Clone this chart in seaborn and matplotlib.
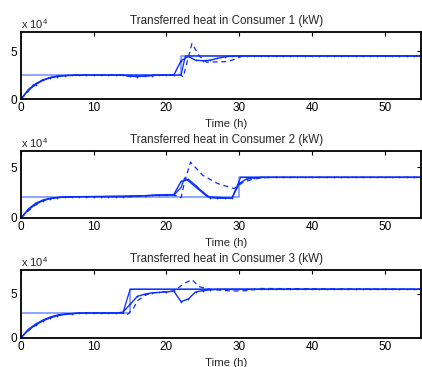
import numpy as np
import pandas as pd
import matplotlib
matplotlib.use('Agg')
import matplotlib.pyplot as plt
import seaborn as sns

# hourly time grid for the measured (dotted) series
t_hourly = list(range(0, 56))

# ---- Consumer 1 ----
c1_set_t = [0, 22, 22, 55]
c1_set_v = [25000, 25000, 45000, 45000]
c1_meas = [0, 9000, 15000, 19500, 22000, 23500, 24300, 24700, 24900, 25000,
           25000, 25000, 25000, 25000, 25000, 23800, 23500, 23800, 24500, 25000,
           25000, 25000, 40000, 44500, 40500, 40000, 40500, 42500, 44000, 44800] + [45000] * 26
c1_dash_t = [0, 1, 1.5, 2, 3, 4, 5, 6, 8, 14, 15, 16, 18, 21, 22, 22.3, 23.5, 24.5, 25.5, 28, 29, 30.5, 32, 55]
c1_dash_v = [0, 8000, 14000, 15500, 20000, 22500, 23800, 24500, 25000, 25000, 23500, 23500,
             24800, 25000, 25000, 23000, 58000, 45000, 38500, 39000, 40500, 45000, 45000, 45000]
c1_model_t = [0, 1, 2, 3, 4, 5, 6, 8, 22, 22.6, 55]
c1_model_v = [0, 10000, 16000, 20000, 22500, 24000, 24600, 25000, 25000, 45000, 45000]

# ---- Consumer 2 ----
c2_set_t = [0, 30, 30, 55]
c2_set_v = [21000, 21000, 40000, 40000]
c2_meas = [0, 8000, 13500, 17000, 19000, 20000, 20600, 20900, 21000, 21000,
           21000, 21000, 21000, 21000, 21000, 21200, 21500, 22000, 22500, 22800,
           23000, 23000, 36000, 38000, 32000, 25500, 20000, 19500, 19500, 19500,
           34000, 38500, 39500] + [40000] * 23
c2_dash_t = [0, 1, 2, 3, 4, 5, 6, 8, 15, 20, 21, 22, 22.5, 23.3, 25, 27, 29.3, 30.5, 32, 34, 55]
c2_dash_v = [0, 7000, 13000, 17000, 19000, 20000, 20600, 21000, 21000, 22800, 22800, 20000,
             36000, 55000, 42000, 34000, 29000, 35000, 38500, 40000, 40000]
c2_model_t = [0, 1, 2, 3, 4, 5, 6, 8, 21, 22, 22.5, 25.6, 29, 30.2, 55]
c2_model_v = [0, 9000, 14500, 17800, 19500, 20300, 20800, 21000, 22500, 30000, 39500,
              21000, 19500, 40000, 40000]

# ---- Consumer 3 ----
c3_set_t = [0, 15, 15, 55]
c3_set_v = [28000, 28000, 55000, 55000]
c3_meas = [0, 8500, 14500, 19000, 22500, 25000, 26500, 27300, 27700, 28000,
           28000, 28000, 28000, 28000, 29000, 38000, 47000, 49500, 51000, 51500,
           52000, 53000, 41000, 44000, 52000, 53500, 54500] + [55000] * 29
c3_dash_t = [0, 1, 2, 3, 4, 5, 6, 8, 14, 14.6, 15.5, 16, 17, 18, 21, 22.5, 23.5, 24.5,
             26, 29, 31, 33, 55]
c3_dash_v = [0, 8000, 14000, 19500, 23000, 25500, 26800, 28000, 28000, 26000, 34000, 42000,
             48000, 51000, 53000, 62000, 66000, 58000, 55000, 53000, 53500, 56000, 55000]
c3_model_t = [0, 1, 2, 3, 4, 5, 6, 8, 14, 15, 55]
c3_model_v = [0, 9500, 15500, 20000, 23500, 25800, 27000, 28000, 28000, 55000, 55000]

titles = ['Transferred heat in Consumer 1 (kW)',
          'Transferred heat in Consumer 2 (kW)',
          'Transferred heat in Consumer 3 (kW)']
ylims = [7.0, 6.6, 7.7]

panels = [
    (c1_set_t, c1_set_v, c1_meas, c1_dash_t, c1_dash_v, c1_model_t, c1_model_v),
    (c2_set_t, c2_set_v, c2_meas, c2_dash_t, c2_dash_v, c2_model_t, c2_model_v),
    (c3_set_t, c3_set_v, c3_meas, c3_dash_t, c3_dash_v, c3_model_t, c3_model_v),
]

sns.set_style('white')
plt.rcParams['font.family'] = ['Liberation Sans', 'DejaVu Sans']
plt.rcParams['mathtext.fontset'] = 'custom'
plt.rcParams['mathtext.rm'] = 'Liberation Sans'

blue = '#0a2dff'
light = '#6f8cff'

fig = plt.figure(figsize=(4.22, 3.67), dpi=100)
# [left, bottom, width, height] in figure fraction
boxes = [[0.0498, 0.7302, 0.948, 0.1826],
         [0.0498, 0.4060, 0.948, 0.1826],
         [0.0498, 0.0799, 0.948, 0.1844]]

for i, (st, sv, meas, dt, dv, mt, mv) in enumerate(panels):
    ax = fig.add_axes(boxes[i])
    sns.lineplot(x=st, y=np.array(sv) / 1e4, ax=ax, color=light, lw=1.1,
                 estimator=None, sort=False)
    sns.lineplot(x=mt, y=np.array(mv) / 1e4, ax=ax, color=blue, lw=0.9,
                 estimator=None, sort=False)
    sns.lineplot(x=dt, y=np.array(dv) / 1e4, ax=ax, color=blue, lw=0.9,
                 estimator=None, sort=False)
    ax.lines[-1].set_dashes([4, 3])
    sns.lineplot(x=t_hourly, y=np.array(meas) / 1e4, ax=ax, color=blue, lw=1.0,
                 marker='.', markersize=2.5, markeredgewidth=0, estimator=None, sort=False)

    ax.set_xlim(0, 55)
    ax.set_ylim(0, ylims[i])
    ax.set_xticks([0, 10, 20, 30, 40, 50])
    ax.set_yticks([0, 5])
    ax.tick_params(direction='in', top=True, right=True, length=3, width=0.8,
                   labelsize=8.5, pad=2.5, colors='black')
    for s in ax.spines.values():
        s.set_linewidth(1.3)
        s.set_color('black')
    ax.set_title(titles[i], fontsize=8.4, pad=6, x=0.513)
    ax.set_xlabel('Time (h)', fontsize=8.2)
    ax.xaxis.set_label_coords(0.513, -0.30)
    ax.xaxis.label.set_va('top')
    ax.set_ylabel('')
    ax.text(0.0, 1.015, r'x 10$^{4}$', transform=ax.transAxes, fontsize=8,
            ha='left', va='bottom')

fig.savefig('out.png', dpi=100)
